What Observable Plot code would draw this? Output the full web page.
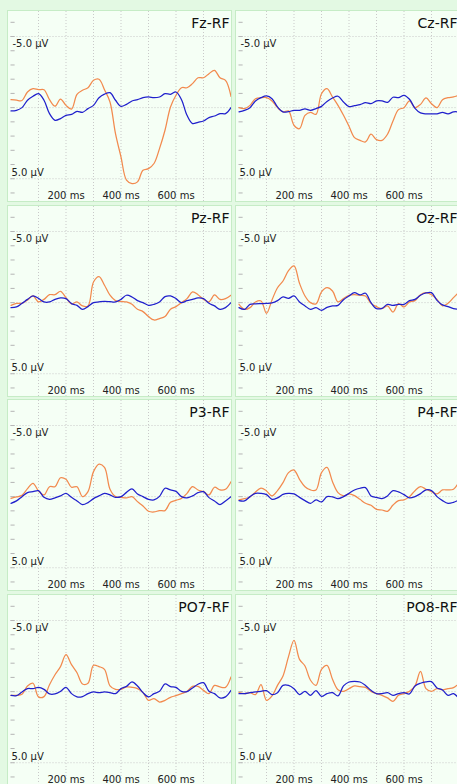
<!DOCTYPE html>
<html>
<head>
<meta charset="utf-8">
<script src="https://cdn.jsdelivr.net/npm/d3@7"></script>
<script src="https://cdn.jsdelivr.net/npm/@observablehq/plot@0.6"></script>
<style>
  html, body { margin: 0; padding: 0; background: #e3f9e3; }
  #root { position: relative; width: 457px; height: 784px; overflow: hidden; background: #e3f9e3; }
  .panel { position: absolute; box-sizing: border-box; border: 1px solid #c6ecc6; background: #f5fff5; overflow: hidden; }
  .panel svg { display: block; }
</style>
</head>
<body>
<div id="root"></div>
<script>
// ---- data ----
const channels = ["Fz-RF", "Cz-RF", "Pz-RF", "Oz-RF", "P3-RF", "P4-RF", "PO7-RF", "PO8-RF"];
const times = [0,20,40,60,80,100,120,140,160,180,200,220,240,260,280,300,320,340,360,380,400,
               420,440,460,480,500,520,540,560,580,600,620,640,660,680,700,720,740,760,780,800];

const fzOrange = [-0.56,-0.52,-0.5,-1.1,-1.33,-1.26,-1.26,-0.56,-0.1,-0.6,-0.16,0.1,-0.94,-1.22,-1.4,-1.92,-2.0,-1.26,-0.4,1.83,3.47,
                  5.1,5.34,5.22,4.4,4.29,3.93,2.88,1.59,-0.05,-0.87,-1.4,-1.4,-1.69,-2.1,-2.1,-2.39,-2.62,-2.1,-1.92,-0.8];
const fzBlue   = [0.23,0.19,0,-0.52,-0.8,-0.98,-0.52,0.42,0.89,0.77,0.54,0.47,0.26,0.33,0.07,-0.16,-0.7,-0.95,-1.05,-0.52,-0.09,
                  -0.23,-0.47,-0.56,-0.7,-0.75,-0.7,-0.75,-0.98,-0.94,-1.1,-0.56,0.54,1.12,1.03,0.94,0.7,0.59,0.42,0.42,0];
const czOrange = [0,0.07,-0.16,-0.63,-0.7,-0.7,-0.47,0,0.3,0.23,1.24,1.48,0.54,0.33,0.47,-0.98,-1.33,-0.75,-0.16,0.54,1.31,
                  2.11,2.3,2.41,1.87,2.25,2.3,1.87,0.94,0.14,0,-0.47,0,-0.23,-0.68,-0.28,0,-0.56,-0.7,-0.75,-0.87];
const czBlue   = [0.3,0.19,0,-0.47,-0.7,-0.82,-0.63,-0.05,0.3,0.28,0.19,0.19,0.09,0.19,0.07,-0.09,-0.44,-0.68,-0.8,-0.4,-0.07,
                  -0.14,-0.21,-0.35,-0.28,-0.47,-0.47,-0.37,-0.73,-0.7,-0.87,-0.59,0.05,0.37,0.44,0.44,0.44,0.33,0.44,0.3,0.3];
const pzOrange = [0.19,0.05,0.05,-0.19,-0.47,-0.05,-0.23,-0.56,-0.56,-0.8,-0.35,0.09,-0.05,0.23,0.23,-1.45,-1.83,-1.22,-0.52,-0.14,-0.09,
                  -0.05,0.12,0.47,0.63,0.98,1.22,1.12,0.98,0.47,0.28,0,-0.28,-0.75,-0.56,-0.23,-0.05,-0.54,-0.23,-0.28,-0.52];
const pzBlue   = [0.35,0.3,0.05,-0.23,-0.47,-0.3,-0.05,-0.05,-0.23,-0.33,-0.28,0.07,0.19,0.47,0.28,0,-0.05,-0.09,-0.07,-0.05,-0.23,
                  -0.52,-0.4,-0.14,0,0.19,0.12,-0.05,-0.42,-0.47,-0.28,0,-0.14,-0.23,-0.33,-0.28,0.05,0.23,0.47,0.35,0];
const ozOrange = [0.12,0.47,0.35,-0.05,-0.12,0.75,-0.19,-1.05,-1.52,-2.25,-2.58,-1.36,-0.47,0,0.09,-0.75,-1.05,-0.82,-0.05,-0.28,-0.52,
                  -0.56,-0.52,-0.47,0.05,0.28,0.42,0.23,0.66,0.07,0.3,-0.05,-0.14,-0.56,-0.7,-0.56,-0.23,0.23,0.05,-0.35,-0.75];
const ozBlue   = [0.35,0.47,0.12,0.09,0.07,0.05,0.02,-0.14,-0.4,-0.3,-0.47,-0.05,0.23,0.47,0.35,0.54,0.33,0.23,0.19,-0.21,-0.47,
                  -0.7,-0.54,-0.66,0,0.42,0.4,0.12,0.19,0.12,0.12,-0.14,-0.23,-0.52,-0.68,-0.7,-0.16,0.16,0.28,0.42,0.47];
const p3Orange = [0.12,0.02,-0.09,-0.56,-0.94,-0.4,-0.12,-0.7,-0.7,-1.33,-1.22,-0.66,-0.7,0,-0.35,-1.76,-2.29,-2.06,-0.52,0,0.05,
                  0.09,0,0.35,0.66,1.03,1.08,0.98,0.98,0.4,0.26,0.12,-0.23,-0.7,-0.47,-0.35,-0.12,-0.66,-0.47,-0.52,-1.05];
const p3Blue   = [0.47,0.3,0,-0.28,-0.35,-0.42,0.05,0.19,0.09,-0.05,-0.23,0.05,0.3,0.56,0.42,0.14,-0.05,-0.23,-0.12,0.05,0,
                  -0.3,-0.54,-0.19,0,0.19,0.23,-0.02,-0.59,-0.47,-0.37,0,0.09,-0.05,-0.28,-0.35,0.07,0.3,0.56,0.3,0];
const p4Orange = [0.23,0.14,0.02,-0.33,-0.59,-0.4,-0.05,-0.42,-0.98,-1.69,-1.87,-1.22,-0.7,-0.47,-0.47,-1.69,-2.06,-1.05,-0.28,-0.05,-0.19,
                  -0.07,0.19,0.47,0.61,0.89,0.94,1.03,0.59,0.28,0.23,0,-0.42,-0.7,-0.52,-0.35,-0.19,-0.47,-0.47,-0.52,-1.05];
const p4Blue   = [0.28,0.3,0,-0.23,-0.23,-0.14,0.19,0.09,-0.16,-0.23,-0.19,0.05,0.28,0.47,0.23,0.37,0,0.02,0.14,0,-0.23,
                  -0.47,-0.59,-0.63,-0.05,0.05,0.14,-0.05,-0.42,-0.33,-0.14,0.09,0,-0.21,-0.47,-0.42,0,0.28,0.47,0.4,0.23];
const po7Orange = [0.26,0.26,0.19,-0.4,-0.59,0.37,0.35,-0.49,-1.19,-1.76,-2.6,-1.9,-1.33,-0.54,-0.59,-1.85,-1.76,-1.57,-0.4,-0.16,-0.16,
                   -0.33,-0.3,-0.21,0.07,0.61,0.49,0.73,0.61,0.4,0.28,0.14,-0.02,-0.37,-0.37,-0.09,0.14,-0.44,-0.33,-0.3,-1.03];
const po7Blue   = [0.26,0.28,0.02,-0.21,-0.21,-0.3,-0.16,0.16,0.16,-0.02,-0.3,0.14,0.37,0.35,0.14,0.02,0.07,0.02,0.07,0.14,-0.21,
                   -0.37,-0.68,-0.4,0.07,0.37,0.14,-0.02,-0.54,-0.35,-0.3,-0.02,0,-0.26,-0.52,-0.63,-0.02,0.14,0.44,0.37,-0.09];
const po8Orange = [0.07,0.14,0.07,0.21,-0.49,0.61,0.3,-0.44,-1.1,-2.46,-3.61,-2.27,-1.8,-0.8,-0.44,-1.57,-1.85,-0.87,-0.14,-0.02,-0.21,
                   -0.4,-0.35,-0.3,-0.02,0.14,0.26,0.44,0.68,0.26,0.14,-0.02,-0.4,-1.43,-0.21,-0.02,-0.21,-0.12,-0.21,-0.28,-0.56];
const po8Blue   = [0.14,0.14,0.07,0.02,-0.02,-0.07,0.21,0.07,-0.44,-0.44,-0.21,0.21,-0.02,0.26,-0.07,0.33,0.14,0.07,0.3,-0.4,-0.68,
                   -0.73,-0.68,-0.44,-0.09,0.14,0.14,0.07,0.26,0.14,0.07,0.16,-0.4,-0.59,-0.68,-0.7,-0.26,-0.12,0.26,0.14,0.49];

const orangeSeries = [fzOrange, czOrange, pzOrange, ozOrange, p3Orange, p4Orange, po7Orange, po8Orange];
const blueSeries   = [fzBlue, czBlue, pzBlue, ozBlue, p3Blue, p4Blue, po7Blue, po8Blue];

const timeGrid = [100, 200, 300, 400, 500, 600, 700];
const timeTicks = [200, 400, 600];
const timeTickLabels = ["200 ms", "400 ms", "600 ms"];
const voltGrid = [-5, 0, 5];
const voltTicks = [-6, -5, -4, -3, -2, -1, 0, 1, 2, 3, 4, 5, 6];
const voltTopLabel = {v: -5, text: "-5.0 µV"};
const voltBottomLabel = {v: 5, text: "5.0 µV"};

// ---- layout / style ----
const orangeColor = "#f28a4e";
const blueColor = "#2020cc";
const gridColor = "#c9c9c9";
const font = "DejaVu Sans, sans-serif";
const panelW = 225, panelH = 192, colPitch = 228, rowPitch = 194.7, left0 = 7, top0 = 10;

const root = document.getElementById("root");

channels.forEach((name, i) => {
  const col = i % 2, row = Math.floor(i / 2);
  const div = document.createElement("div");
  div.className = "panel";
  div.style.left = (left0 + col * colPitch) + "px";
  div.style.top = (top0 + row * rowPitch) + "px";
  div.style.width = panelW + "px";
  div.style.height = panelH + "px";

  const orange = orangeSeries[i].map((v, k) => ({t: times[k], v}));
  const blue = blueSeries[i].map((v, k) => ({t: times[k], v}));

  const chart = Plot.plot({
    width: panelW - 2,
    height: panelH - 2,
    marginLeft: 2.5, marginRight: 0.5, marginTop: 0, marginBottom: 0,
    style: {background: "transparent", fontFamily: font, overflow: "visible"},
    x: {domain: [0, 800], axis: null},
    y: {domain: [6.6, -6.76], axis: null},
    marks: [
      Plot.ruleX(timeGrid, {stroke: gridColor, strokeDasharray: "1,2"}),
      Plot.ruleY(voltGrid, {stroke: gridColor, strokeDasharray: "1,2"}),
      Plot.ruleY(voltTicks, {x1: 0, x2: 15, stroke: "#b5b5b5"}),
      Plot.line(orange, {x: "t", y: "v", stroke: orangeColor, strokeWidth: 1.25, curve: "catmull-rom"}),
      Plot.line(blue, {x: "t", y: "v", stroke: blueColor, strokeWidth: 1.25, curve: "catmull-rom"}),
      Plot.text([voltTopLabel], {x: 0, y: "v", text: "text", textAnchor: "start", lineAnchor: "middle",
        dx: 1.5, dy: 7.5, fontSize: 10, fill: "#222"}),
      Plot.text([voltBottomLabel], {x: 0, y: "v", text: "text", textAnchor: "start", lineAnchor: "middle",
        dx: 0.5, dy: -6.3, fontSize: 10, fill: "#222"}),
      Plot.text(timeTicks, {x: d => d, frameAnchor: "bottom", lineAnchor: "middle", text: (d, k) => timeTickLabels[k],
        dy: -6, fontSize: 10, fill: "#222"}),
      Plot.text([name], {frameAnchor: "top-right", lineAnchor: "middle", text: d => d, dx: -1.5, dy: 12.5,
        fontSize: 14, fill: "#111"})
    ]
  });
  div.appendChild(chart);
  root.appendChild(div);
});
</script>
</body>
</html>
